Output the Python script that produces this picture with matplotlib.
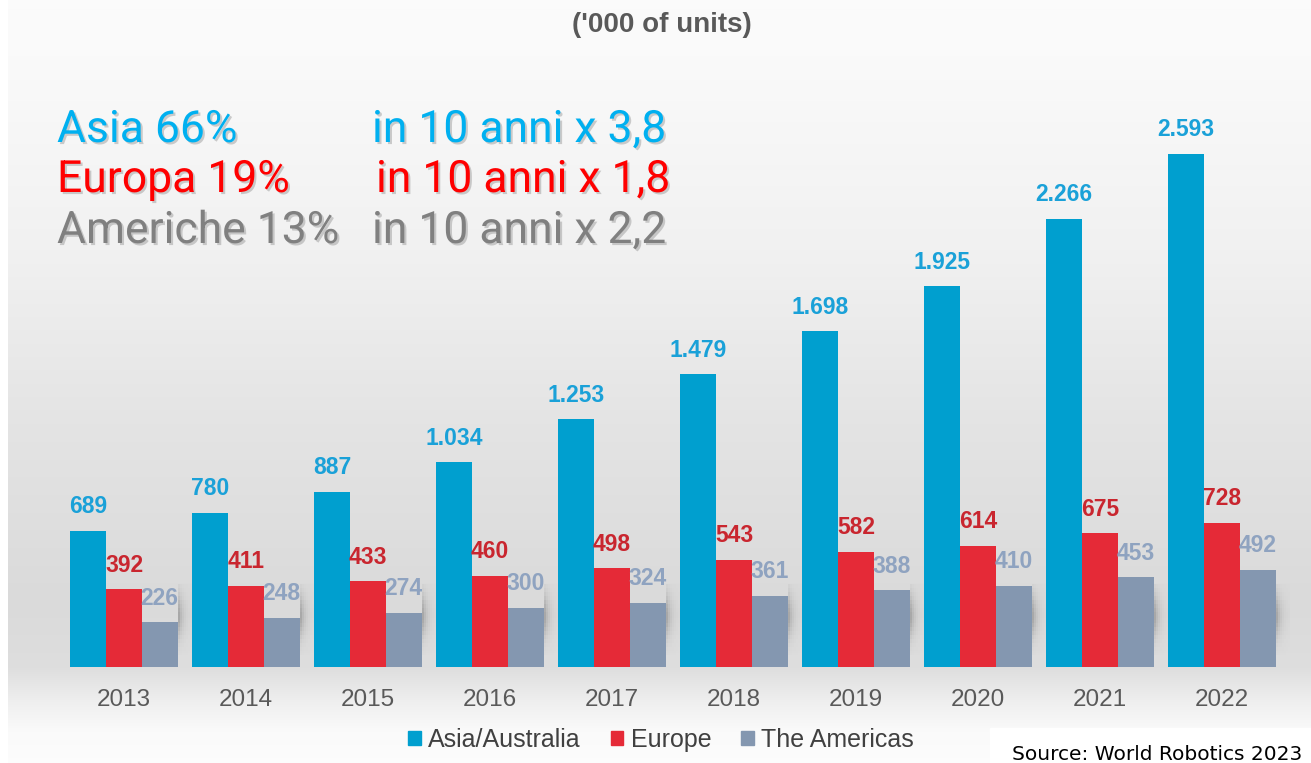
import numpy as np
import matplotlib
matplotlib.use("Agg")
import matplotlib.pyplot as plt
import matplotlib.patheffects as pe
from matplotlib.patches import Patch, Rectangle
from matplotlib.collections import PatchCollection

# data ('000 of units)
years = ['2013', '2014', '2015', '2016', '2017', '2018', '2019', '2020', '2021', '2022']
asia = [689, 780, 887, 1034, 1253, 1479, 1698, 1925, 2266, 2593]
europe = [392, 411, 433, 460, 498, 543, 582, 614, 675, 728]
americas = [226, 248, 274, 300, 324, 361, 388, 410, 453, 492]
series_names = ['Asia/Australia', 'Europe', 'The Americas']

bar_colors = ['#009fcf', '#e52a37', '#8497b0']
label_colors = ['#1aa1d8', '#c9262f', '#8fa3c0']

W, H = 1311, 763
fig = plt.figure(figsize=(W / 100, H / 100), dpi=100)

# background gradient
bg = fig.add_axes([0, 0, 1, 1])
bg.set_axis_off()
bg.set_xlim(0, W)
bg.set_ylim(H, 0)
rows = np.arange(H)
stops_y = [0, 60, 250, 420, 600, 667, 700, 730, 763]
stops_v = [0.985, 0.98, 0.945, 0.895, 0.855, 0.87, 0.935, 0.98, 0.99]
shade = np.interp(rows, stops_y, stops_v)
grad = np.repeat(np.tile(shade[:, None], (1, 4))[:, :, None], 3, axis=2)
bg.imshow(grad, extent=[8, W, H, 0], aspect='auto', interpolation='none', zorder=0)
bg.add_patch(Rectangle((990, 728), W - 990, H - 728, color='white', zorder=1))

# main chart axes: baseline at y=667 px
base_px = 667
ppu = (667 - 154) / 2593
ymax = 3000
ax = fig.add_axes([0, (H - base_px) / H, 1, ymax * ppu / H])
ax.patch.set_alpha(0)
pitch = 122.0
c0 = 124.0
ax.set_xlim(-c0 / pitch, (W - c0) / pitch)
ax.set_ylim(0, ymax)

x = np.arange(len(years))
w = 35.7 / pitch
data = [asia, europe, americas]
handles = []
shadow_cells = []
shadow_alpha = []
nx, ny = 7, 18
for i, (vals, col, lcol) in enumerate(zip(data, bar_colors, label_colors)):
    pos = x + (i - 1) * w
    bars = ax.bar(pos, vals, width=w, color=col, zorder=3, label=series_names[i])
    for b, v in zip(bars, vals):
        ax.annotate(f"{v:,}".replace(',', '.'),
                    (b.get_x() + b.get_width() / 2, b.get_height()),
                    xytext=(0, 9), textcoords='offset points',
                    ha='center', va='bottom', fontsize=16.5, fontweight='bold',
                    color=lcol, family='Liberation Sans', zorder=4)
        if i == 2:
            # soft shadow right of each group
            xr = b.get_x() + b.get_width()
            cw = 2.0 / pitch
            ch = 20.0
            for ix in range(nx):
                for iy in range(ny):
                    t = (iy + 0.5) / ny
                    a = 0.3 * np.exp(-ix / 2.2) * np.exp(-((t - 0.55) / 0.3) ** 2)
                    shadow_cells.append(Rectangle((xr + ix * cw, 60 + iy * ch), cw, ch))
                    shadow_alpha.append((0.2, 0.2, 0.2, a))
    handles.append(Patch(color=col, label=series_names[i]))

ax.add_collection(PatchCollection(shadow_cells, facecolors=shadow_alpha,
                                  edgecolors='none', zorder=2))

ax.set_xticks(x, years)
ax.tick_params(axis='x', length=0, pad=16, labelsize=17.5, labelcolor='#595959')
for lab in ax.get_xticklabels():
    lab.set_family('Liberation Sans')
ax.set_yticks([])
for s in ax.spines.values():
    s.set_visible(False)

leg = fig.legend(handles=handles, loc='center', bbox_to_anchor=(661 / W, 1 - 740 / H),
                 ncol=3, frameon=False, handlelength=0.5, handleheight=0.5,
                 handletextpad=0.3, columnspacing=1.2,
                 prop={'family': 'Liberation Sans', 'size': 18})
for t in leg.get_texts():
    t.set_color('#404040')

# title
fig.text(662 / W, 1 - 25 / H, "('000 of units)", ha='center', va='center',
         fontsize=20, fontweight='bold', color='#595959', family='Liberation Sans')

# highlight block
shadow = [pe.withSimplePatchShadow(offset=(1.5, -1.5), shadow_rgbFace='#777777', alpha=0.35)]
lines = [
    ("Asia 66%", "in 10 anni x 3,8", '#00b0f0', 142, 372),
    ("Europa 19%", "in 10 anni x 1,8", '#ff0000', 192, 376),
    ("Americhe 13%", "in 10 anni x 2,2", '#808080', 243, 372),
]
for left, right, col, ybase, xr in lines:
    fig.text(57 / W, 1 - ybase / H, left, ha='left', va='baseline', fontsize=32,
             color=col, family='Roboto', path_effects=shadow)
    fig.text(xr / W, 1 - ybase / H, right, ha='left', va='baseline', fontsize=32,
             color=col, family='Roboto', path_effects=shadow)

fig.text(1012 / W, 1 - 760 / H, "Source: World Robotics 2023", ha='left', va='baseline',
         fontsize=14.5, color='black', family='DejaVu Sans')

fig.savefig('out.png', dpi=100)
